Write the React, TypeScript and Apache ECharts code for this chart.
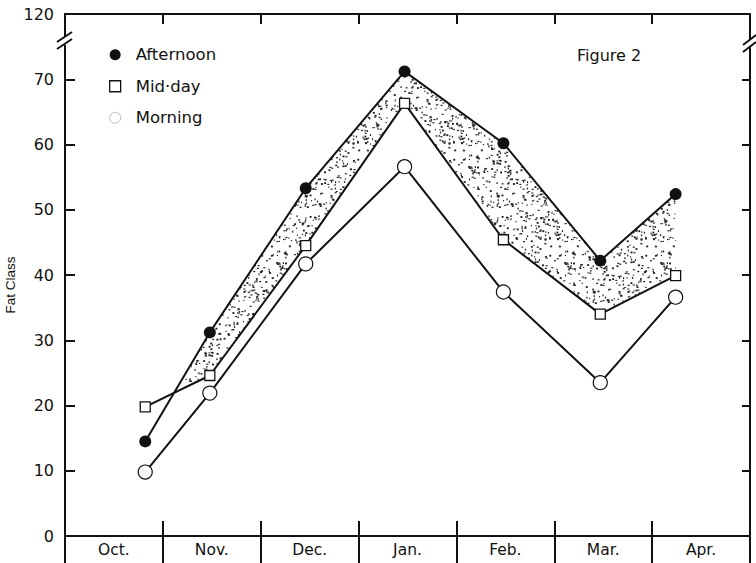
import React, { useEffect, useRef } from "react";
import * as echarts from "echarts";

const categories = ["Oct.", "Nov.", "Dec.", "Jan.", "Feb.", "Mar.", "Apr."];
// sampling positions, in months from the start of October
const samplePos = [0.82, 1.48, 2.46, 3.47, 4.48, 5.47, 6.24];
const afternoon = [14.5, 31.2, 53.3, 71.2, 60.2, 42.2, 52.4];
const midday = [19.8, 24.6, 44.5, 66.3, 45.4, 34.0, 39.9];
const morning = [9.8, 21.9, 41.7, 56.6, 37.4, 23.5, 36.6];
const yTickLabels = ["0", "10", "20", "30", "40", "50", "60", "70", "120"];
const yAxisTitle = "Fat Class";

const FONT = "DejaVu Sans";
const INK = "#111";

function makeStipple(): HTMLCanvasElement {
  const size = 96;
  const c = document.createElement("canvas");
  c.width = size;
  c.height = size;
  const ctx = c.getContext("2d")!;
  ctx.fillStyle = "#fff";
  ctx.fillRect(0, 0, size, size);
  ctx.fillStyle = "#222";
  let s = 12345;
  const next = () => {
    s = (s * 1103515245 + 12345) % 2147483648;
    return s / 2147483648;
  };
  for (let i = 0; i < 460; i++) {
    const x = next() * size;
    const y = next() * size;
    const w = next() < 0.5 ? 1.2 : 2;
    const h = next() < 0.5 ? 1.2 : 1.8;
    ctx.fillRect(x, y, w, h);
  }
  return c;
}

const pairs = (vals: number[]) => vals.map((v, i) => [samplePos[i], v]);

export default function App() {
  const ref = useRef<HTMLDivElement>(null);
  useEffect(() => {
    if (!ref.current) return;
    const chart = echarts.init(ref.current, null, { renderer: "svg" });
    const stipple = makeStipple();
    const lineCommon = { width: 2, color: INK };

    // shaded band where afternoon lies above mid-day
    const bandRender = (params: any, api: any) => {
      if (params.dataIndex !== 0) return null;
      const n = samplePos.length;
      const polys: number[][][] = [];
      let top: number[][] = [];
      let bot: number[][] = [];
      const close = () => {
        if (top.length + bot.length >= 3) polys.push(top.concat(bot.slice().reverse()));
        top = [];
        bot = [];
      };
      for (let i = 0; i < n; i++) {
        const d = afternoon[i] - midday[i];
        if (d >= 0) {
          top.push(api.coord([samplePos[i], afternoon[i]]));
          bot.push(api.coord([samplePos[i], midday[i]]));
        }
        if (i < n - 1) {
          const d2 = afternoon[i + 1] - midday[i + 1];
          if ((d >= 0) !== (d2 >= 0)) {
            const t = d / (d - d2);
            const cx = samplePos[i] + t * (samplePos[i + 1] - samplePos[i]);
            const cy = afternoon[i] + t * (afternoon[i + 1] - afternoon[i]);
            const p = api.coord([cx, cy]);
            if (d >= 0) {
              top.push(p);
              close();
            } else {
              top = [p];
              bot = [];
            }
          }
        }
      }
      close();
      return {
        type: "group",
        children: polys.map((pts) => ({
          type: "polygon",
          shape: { points: pts },
          style: { fill: { image: stipple, repeat: "repeat" }, stroke: "none" },
        })),
      };
    };

    chart.setOption({
      animation: false,
      backgroundColor: "#fff",
      textStyle: { fontFamily: FONT, color: INK },
      title: {
        text: "Figure 2",
        left: 572,
        top: 42,
        textStyle: { fontFamily: FONT, fontSize: 16, fontWeight: "normal", color: INK },
      },
      legend: {
        orient: "vertical",
        left: 104,
        top: 40,
        itemWidth: 11,
        itemHeight: 11,
        itemGap: 12,
        textStyle: { fontFamily: FONT, fontSize: 16.5, color: INK, lineHeight: 19.5, padding: [0, 0, 0, 10] },
        data: [
          { name: "Afternoon", icon: "circle", itemStyle: { color: INK, borderWidth: 0 } },
          { name: "Mid·day", icon: "rect", itemStyle: { color: "#fff", borderColor: INK, borderWidth: 1.3 } },
          { name: "Morning", icon: "circle", itemStyle: { color: "#fff", borderColor: "#bbb", borderWidth: 1 } },
        ],
      },
      grid: { left: 65, right: 6, top: 14, bottom: 27, containLabel: false, outerBoundsMode: "none" },
      xAxis: [
        { type: "value", min: 0, max: 7, show: false },
        {
          type: "category",
          data: categories,
          position: "bottom",
          boundaryGap: true,
          z: 10,
          axisLine: { show: true, lineStyle: { color: INK, width: 2 } },
          axisTick: { show: true, inside: false, length: 28, lineStyle: { color: INK, width: 2 } },
          axisLabel: { fontFamily: FONT, fontSize: 15.5, color: INK, margin: 6 },
          splitLine: { show: false },
        },
        {
          type: "category",
          data: categories,
          position: "bottom",
          boundaryGap: true,
          z: 10,
          axisLine: { show: false },
          axisTick: { show: true, inside: true, length: 15, lineStyle: { color: INK, width: 2 } },
          axisLabel: { show: false },
          splitLine: { show: false },
        },
        {
          type: "category",
          data: categories,
          position: "top",
          boundaryGap: true,
          z: 10,
          axisLine: { show: true, lineStyle: { color: INK, width: 2 } },
          axisTick: { show: true, inside: true, length: 10, lineStyle: { color: INK, width: 2 } },
          axisLabel: { show: false },
          splitLine: { show: false },
        },
      ],
      yAxis: [
        {
          type: "value",
          min: 0,
          max: 80,
          interval: 10,
          position: "left",
          z: 10,
          axisLine: { show: true, lineStyle: { color: INK, width: 2 } },
          axisTick: { show: true, inside: true, length: 10, lineStyle: { color: INK, width: 2 } },
          axisLabel: {
            fontFamily: FONT,
            fontSize: 16,
            color: INK,
            margin: 11,
            formatter: (v: number) => yTickLabels[Math.round(v / 10)] ?? "",
          },
          splitLine: { show: false },
        },
        {
          type: "value",
          min: 0,
          max: 80,
          interval: 10,
          position: "right",
          z: 10,
          axisLine: { show: true, lineStyle: { color: INK, width: 2 } },
          axisTick: { show: true, inside: true, length: 8, lineStyle: { color: INK, width: 2 } },
          axisLabel: { show: false },
          splitLine: { show: false },
        },
      ],
      series: [
        {
          name: "band",
          type: "custom",
          xAxisIndex: 0,
          yAxisIndex: 0,
          renderItem: bandRender,
          data: samplePos.map((x, i) => [x, afternoon[i], midday[i]]),
          encode: { x: 0, y: [1, 2] },
          z: 1,
          silent: true,
        },
        {
          name: "Morning",
          type: "line",
          xAxisIndex: 0,
          data: pairs(morning),
          symbol: "circle",
          symbolSize: 14,
          itemStyle: { color: "#fff", borderColor: INK, borderWidth: 1.2 },
          lineStyle: lineCommon,
          z: 3,
        },
        {
          name: "Mid·day",
          type: "line",
          xAxisIndex: 0,
          data: pairs(midday),
          symbol: "rect",
          symbolSize: 10,
          itemStyle: { color: "#fff", borderColor: INK, borderWidth: 1.3 },
          lineStyle: lineCommon,
          z: 4,
        },
        {
          name: "Afternoon",
          type: "line",
          xAxisIndex: 0,
          data: pairs(afternoon),
          symbol: "circle",
          symbolSize: 12,
          itemStyle: { color: INK, borderWidth: 0 },
          lineStyle: lineCommon,
          z: 5,
        },
      ],
      graphic: [
        {
          type: "text",
          x: 10,
          y: 285,
          rotation: Math.PI / 2,
          style: {
            text: yAxisTitle,
            fontFamily: "Liberation Sans",
            fontSize: 13.5,
            fill: INK,
            align: "center",
            verticalAlign: "middle",
          },
        },
        { type: "rect", shape: { x: 61, y: 37, width: 8, height: 8 }, style: { fill: "#fff" }, z: 100 },
        { type: "line", shape: { x1: 57, y1: 42, x2: 72, y2: 32 }, style: { stroke: INK, lineWidth: 2 }, z: 101 },
        { type: "line", shape: { x1: 57, y1: 49, x2: 72, y2: 39 }, style: { stroke: INK, lineWidth: 2 }, z: 101 },
        { type: "rect", shape: { x: 746, y: 39, width: 9, height: 8 }, style: { fill: "#fff" }, z: 100 },
        { type: "line", shape: { x1: 743, y1: 45, x2: 756, y2: 35 }, style: { stroke: INK, lineWidth: 2 }, z: 101 },
        { type: "line", shape: { x1: 743, y1: 52, x2: 756, y2: 42 }, style: { stroke: INK, lineWidth: 2 }, z: 101 },
      ],
    });
    return () => chart.dispose();
  }, []);
  return (
    <div
      ref={ref}
      style={{ position: "absolute", left: 0, top: 0, width: 756, height: 563, background: "#fff" }}
    />
  );
}
